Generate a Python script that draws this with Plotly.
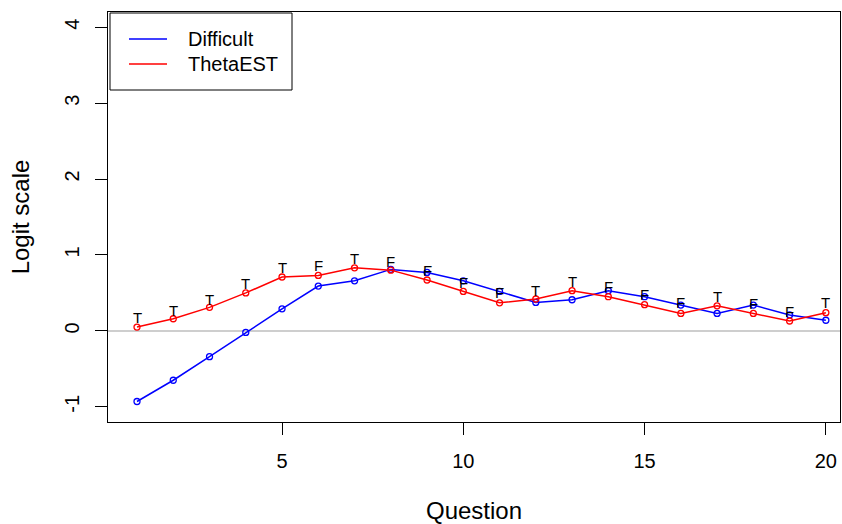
import plotly.graph_objects as go

question = list(range(1, 21))
difficult = [-0.93, -0.65, -0.34, -0.02, 0.29, 0.59, 0.66, 0.81, 0.77, 0.66,
             0.52, 0.375, 0.41, 0.53, 0.45, 0.34, 0.23, 0.34, 0.21, 0.14]
theta_est = [0.05, 0.16, 0.31, 0.50, 0.71, 0.73, 0.83, 0.80, 0.67, 0.52,
             0.37, 0.42, 0.53, 0.45, 0.345, 0.23, 0.33, 0.23, 0.13, 0.24]
answer = ["T", "T", "T", "T", "T", "F", "T", "F", "F", "F",
          "F", "T", "T", "F", "F", "F", "T", "F", "F", "T"]
label_level = [0.18, 0.27, 0.42, 0.62, 0.83, 0.86, 0.96, 0.91, 0.80, 0.64,
               0.51, 0.53, 0.65, 0.59, 0.48, 0.37, 0.45, 0.36, 0.26, 0.38]
series_names = ["Difficult", "ThetaEST"]
series_colors = ["#0000FF", "#FF0000"]
x_ticks = [5, 10, 15, 20]
y_ticks = [-1, 0, 1, 2, 3, 4]
y_tick_labels = ["-1", "0", "1", "2", "3", "4"]

FONT = "Liberation Sans, Arial, sans-serif"

fig = go.Figure()

for name, vals, col in zip(series_names, [difficult, theta_est], series_colors):
    fig.add_trace(go.Scatter(
        x=question, y=vals, mode="lines+markers", name=name,
        line=dict(color=col, width=1.5),
        marker=dict(symbol="circle-open", size=6, color=col, line=dict(width=1.3, color=col)),
        showlegend=False,
    ))

# horizontal reference line at 0
fig.add_shape(type="line", xref="paper", yref="y", x0=0, x1=1, y0=0, y1=0,
              line=dict(color="#BEBEBE", width=1.5), layer="below")

# T/F labels
for q, lab, lv in zip(question, answer, label_level):
    fig.add_annotation(x=q, y=lv, xref="x", yref="y", text=lab, showarrow=False,
                       font=dict(family=FONT, size=15, color="#000000"),
                       xanchor="center", yanchor="middle")

# manual R-style legend box
W, H = 842 - 108 - 2, 524 - 12 - 102
def px(xp): return (xp - 108) / W
def py(yp): return 1 - (yp - 12) / H
fig.add_shape(type="rect", xref="paper", yref="paper",
              x0=px(110), x1=px(292), y0=py(90), y1=py(13),
              line=dict(color="#000000", width=1), fillcolor="white")
for i, (name, col) in enumerate(zip(series_names, series_colors)):
    yy = 39 + 25 * i
    fig.add_shape(type="line", xref="paper", yref="paper",
                  x0=px(129), x1=px(167), y0=py(yy), y1=py(yy),
                  line=dict(color=col, width=1.5))
    fig.add_annotation(x=px(186), y=py(yy), xref="paper", yref="paper", text=name,
                       showarrow=False, xanchor="left", yanchor="middle",
                       font=dict(family=FONT, size=20, color="#000000"))

fig.update_layout(
    width=842, height=524,
    margin=dict(l=108, r=2, t=12, b=102),
    paper_bgcolor="white", plot_bgcolor="white",
    font=dict(family=FONT, size=20, color="#000000"),
    xaxis=dict(range=[0.2, 20.39], tickvals=x_ticks, ticks="outside", ticklen=12,
               tickcolor="#000000", showline=True, linecolor="#000000", linewidth=1,
               mirror=True, showgrid=False, zeroline=False, ticklabelstandoff=9,
               title=dict(text="Question", standoff=34),
               tickfont=dict(size=20)),
    yaxis=dict(range=[-1.2, 4.2], tickvals=y_ticks, ticktext=y_tick_labels,
               ticks="outside", ticklen=12,
               tickcolor="#000000", showline=True, linecolor="#000000", linewidth=1,
               mirror=True, showgrid=False, zeroline=False, tickangle=-90,
               ticklabelstandoff=8,
               title=dict(text="Logit scale", standoff=24),
               tickfont=dict(size=20)),
)

fig.write_html("out.html")
